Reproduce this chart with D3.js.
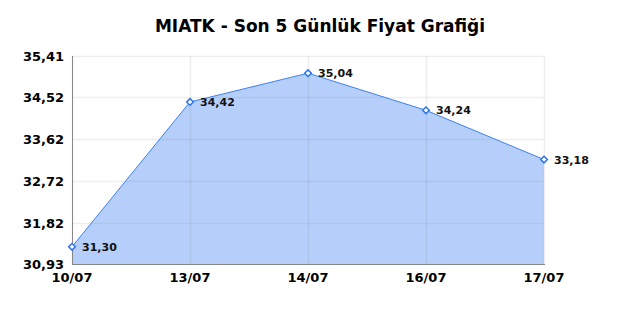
<!DOCTYPE html>
<html>
<head>
<meta charset="utf-8">
<script src="https://cdn.jsdelivr.net/npm/d3@7"></script>
<style>
  body { margin: 0; background: #fff; }
  text { font-family: "DejaVu Sans", sans-serif; }
</style>
</head>
<body>
<div id="chart"></div>
<script>
// chart data
var dates = ['10/07', '13/07', '14/07', '16/07', '17/07'];
var prices = [31.30, 34.42, 35.04, 34.24, 33.18];
var yTicks = [30.93, 31.82, 32.72, 33.62, 34.52, 35.41];

var opts = {
  width: 640,
  height: 320,
  left: 72, right: 544,
  top: 56, bottom: 264
};

var svg = d3.select('#chart').append('svg')
            .attr('width', opts.width)
            .attr('height', opts.height);

var x = d3.scalePoint().domain(dates).range([opts.left, opts.right]);
var y = d3.scaleLinear().domain([30.93, 35.41]).range([opts.bottom, opts.top]);

var fmt = function(v){ return v.toFixed(2).replace('.', ','); };

// title
svg.append('text')
   .attr('x', 320).attr('y', 32)
   .attr('text-anchor', 'middle')
   .style('font-size', '17px').style('font-weight', 'bold')
   .text('MIATK - Son 5 Günlük Fiyat Grafiği');

// area + line
var pts = dates.map(function(d, i){ return [d, prices[i]]; });
var area = d3.area()
             .x(function(d){ return x(d[0]); })
             .y0(opts.bottom)
             .y1(function(d){ return y(d[1]); });
var line = d3.line()
             .x(function(d){ return x(d[0]); })
             .y(function(d){ return y(d[1]); });

svg.append('path').datum(pts)
   .attr('d', area)
   .style('fill', '#b5cffa');

// grid lines (on top of the area, translucent)
svg.append('g').selectAll('line.h')
   .data(yTicks).enter().append('line')
   .attr('x1', opts.left).attr('x2', opts.right)
   .attr('y1', function(d){ return Math.round(y(d)) + 0.5; })
   .attr('y2', function(d){ return Math.round(y(d)) + 0.5; })
   .style('stroke', 'rgba(120,120,140,0.13)').style('stroke-width', 1.5);
svg.append('g').selectAll('line.v')
   .data(dates).enter().append('line')
   .attr('y1', opts.top).attr('y2', opts.bottom)
   .attr('x1', function(d){ return Math.round(x(d)) + 0.5; })
   .attr('x2', function(d){ return Math.round(x(d)) + 0.5; })
   .style('stroke', 'rgba(120,120,140,0.13)').style('stroke-width', 1.5);

svg.append('path').datum(pts)
   .attr('d', line)
   .style('fill', 'none')
   .style('stroke', '#3d82f2').style('stroke-width', 1);

// axes lines
svg.append('line')
   .attr('x1', opts.left + 0.5).attr('x2', opts.left + 0.5)
   .attr('y1', opts.top).attr('y2', opts.bottom + 1)
   .style('stroke', '#888').style('stroke-width', 1);
svg.append('line')
   .attr('x1', opts.left).attr('x2', opts.right + 1)
   .attr('y1', opts.bottom + 0.5).attr('y2', opts.bottom + 0.5)
   .style('stroke', '#888').style('stroke-width', 1);

// y tick labels
svg.append('g').selectAll('text')
   .data(yTicks).enter().append('text')
   .attr('x', 64)
   .attr('y', function(d){ return y(d) + 5; })
   .attr('text-anchor', 'end')
   .style('font-size', '13px').style('font-weight', 'bold')
   .text(fmt);

// x tick labels
svg.append('g').selectAll('text')
   .data(dates).enter().append('text')
   .attr('x', function(d){ return x(d); })
   .attr('y', 282)
   .attr('text-anchor', 'middle')
   .style('font-size', '13px').style('font-weight', 'bold')
   .text(function(d){ return d; });

// markers
var diamond = d3.symbol().type(d3.symbolDiamond2).size(28);
svg.append('g').selectAll('path')
   .data(pts).enter().append('path')
   .attr('d', diamond)
   .attr('transform', function(d){ return 'translate(' + x(d[0]) + ',' + y(d[1]) + ')'; })
   .style('fill', '#fff').style('stroke', '#2a74ee').style('stroke-width', 1.5);

// value labels
svg.append('g').selectAll('text')
   .data(pts).enter().append('text')
   .attr('x', function(d){ return x(d[0]) + 10; })
   .attr('y', function(d){ return y(d[1]) + 4; })
   .style('font-size', '11px').style('font-weight', 'bold')
   .style('fill', '#111')
   .text(function(d){ return fmt(d[1]); });
</script>
</body>
</html>
